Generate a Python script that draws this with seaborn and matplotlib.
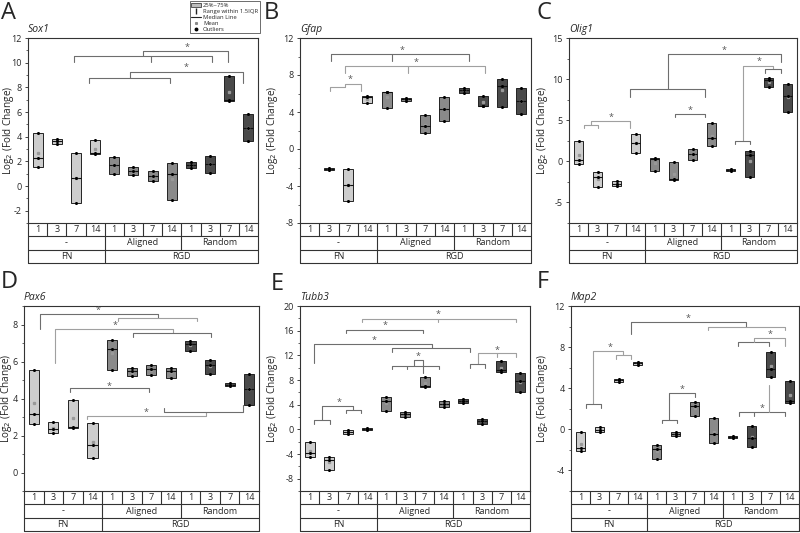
import numpy as np
import pandas as pd
import matplotlib
matplotlib.use("Agg")
import matplotlib.pyplot as plt
from matplotlib.patches import Patch
from matplotlib.lines import Line2D
from matplotlib.ticker import MultipleLocator
import seaborn as sns

sns.set_style("ticks")
plt.rcParams['font.family'] = ['Open Sans', 'DejaVu Sans']
plt.rcParams['axes.unicode_minus'] = False

# --- data: three replicates per condition (log2 fold change) ---
days = ["1", "3", "7", "14"]
groups = ["-", "Aligned", "Random"]
substrates = ["FN", "RGD"]
conds = [f"{g}-{d}" for g in ["FN", "Aligned", "Random"] for d in days]
box_colors = ["#cdcdcd"] * 4 + ["#8a8a8a"] * 4 + ["#4a4a4a"] * 4

sox1 = [[1.57, 2.27, 4.28], [3.37, 3.64, 3.80], [-1.40, 0.61, 2.64], [2.62, 2.64, 3.74],
        [1.00, 1.68, 2.32], [0.93, 1.22, 1.57], [0.42, 0.79, 1.20], [-1.16, 0.98, 1.87],
        [1.50, 1.70, 1.92], [1.06, 1.81, 2.40], [6.90, 7.00, 8.89], [3.64, 4.68, 5.86]]
gfap = [None, [-2.25, -2.17, -2.10], [-5.60, -3.94, -2.20], [4.95, 5.67, 5.73],
        [4.48, 6.15, 6.17], [5.24, 5.37, 5.50], [1.75, 2.54, 3.65], [3.04, 4.37, 5.67],
        [6.10, 6.35, 6.57], [4.63, 4.70, 5.78], [4.59, 6.82, 7.61], [3.73, 5.20, 6.64]]
olig1 = [[-0.36, 0.12, 2.46], [-3.15, -1.90, -1.33], [-2.98, -2.70, -2.42], [1.00, 2.22, 3.31],
         [-1.17, 0.29, 0.40], [-2.26, -2.16, -0.08], [0.20, 0.85, 1.49], [1.85, 2.78, 4.64],
         [-1.13, -1.03, -0.93], [-1.85, 0.81, 1.25], [9.00, 9.88, 10.16], [5.97, 7.98, 9.35]]
pax6 = [[2.61, 3.17, 5.56], [2.12, 2.34, 2.74], [2.40, 2.46, 3.92], [0.77, 1.48, 2.68],
        [5.54, 6.67, 7.16], [5.21, 5.47, 5.67], [5.29, 5.60, 5.80], [5.10, 5.50, 5.67],
        [6.58, 6.93, 7.10], [5.30, 5.83, 6.10], [4.65, 4.75, 4.83], [3.66, 4.50, 5.34]]
tubb3 = [[-4.50, -3.84, -2.10], [-6.65, -4.90, -4.50], [-0.70, -0.40, -0.05], [-0.05, 0.05, 0.22],
         [2.97, 4.54, 5.19], [2.05, 2.43, 2.81], [6.92, 7.10, 8.43], [3.62, 4.10, 4.54],
         [4.22, 4.65, 4.97], [0.92, 1.30, 1.73], [9.35, 9.60, 11.05], [6.05, 7.90, 9.14]]
map2 = [[-2.13, -1.77, -0.29], [-0.23, -0.03, 0.19], [4.61, 4.77, 4.94], [6.29, 6.42, 6.55],
        [-2.87, -1.90, -1.48], [-0.61, -0.45, -0.23], [1.32, 2.29, 2.68], [-1.32, -0.45, 1.10],
        [-0.80, -0.72, -0.64], [-1.68, -0.84, 0.35], [5.10, 5.90, 7.55], [2.55, 2.74, 4.71]]

# significance brackets: (x1, x2, y, left leg end, right leg end, colour)
D_ = "#6e6e6e"
L_ = "#a0a0a0"
sox1_br = [(1.9, 9.12, 10.53, 10.07, 10.07, D_), (5.5, 9.93, 10.98, 10.53, 10.07, D_),
           (2.68, 6.89, 8.78, 8.33, 8.33, D_), (4.84, 10.73, 9.27, 8.78, 8.33, D_)]
sox1_tk = [(5.9, 10.53, 10.07, D_)]
sox1_st = [(7.78, 11.25), (7.74, 9.59)]

gfap_br = [(1.1, 8.28, 10.24, 9.48, 9.48, D_), (1.86, 9.1, 8.98, 8.22, 8.22, L_),
           (1.06, 1.85, 6.72, 6.32, None, L_), (1.85, 2.68, 7.07, 6.72, 6.32, L_)]
gfap_tk = [(4.3, 10.24, 9.48, D_), (5.1, 8.98, 8.22, L_)]
gfap_st = [(4.8, 10.67), (5.52, 9.34), (2.1, 7.5)]

olig1_br = [(4.72, 10.66, 13.0, 8.75, 12.1, D_), (2.7, 6.66, 8.75, 7.82, 7.82, D_),
            (8.67, 10.26, 11.65, 2.5, 11.17, L_), (9.83, 10.66, 11.17, 10.8, 10.8, D_),
            (8.24, 9.05, 2.5, 2.1, 2.1, D_), (5.1, 6.66, 5.8, 5.36, 5.36, D_),
            (0.67, 2.7, 4.92, 4.44, 4.03, L_), (0.29, 1.05, 4.44, 4.03, 4.03, L_)]
olig1_tk = []
olig1_st = [(7.66, 13.47), (9.53, 12.1), (5.9, 6.2), (1.72, 5.32)]

pax6_br = [(0.3, 6.35, 8.58, 7.76, 8.36, D_), (4.29, 8.33, 8.36, 8.18, 8.18, L_),
           (1.07, 7.1, 7.74, 5.94, 7.54, L_), (5.09, 9.06, 7.54, 7.34, 7.34, D_),
           (1.85, 5.9, 4.56, 4.34, 4.34, D_), (2.7, 8.77, 3.08, 2.88, 3.28, L_),
           (6.67, 10.7, 3.28, 3.46, 3.66, D_)]
pax6_tk = []
pax6_st = [(3.28, 8.77), (4.17, 7.95), (3.83, 4.67), (5.74, 3.24)]

tubb3_br = [(2.72, 10.77, 17.95, 17.35, 17.35, L_), (1.9, 5.93, 16.16, 15.57, 15.57, D_),
            (0.25, 6.37, 13.84, 10.7, 13.14, D_), (4.28, 8.37, 13.14, 12.54, 12.54, D_),
            (4.28, 6.75, 10.3, 9.73, 9.73, D_), (5.45, 5.93, 11.24, 10.3, 9.14, D_),
            (8.77, 10.77, 12.3, 10.6, 11.76, L_), (8.37, 9.15, 10.6, 9.95, 9.95, D_),
            (0.67, 2.28, 3.84, 1.46, 3.2, D_), (0.25, 1.07, 1.46, 0.86, 0.86, D_),
            (1.88, 2.7, 3.2, 2.6, 2.6, D_)]
tubb3_tk = [(6.72, 17.95, 17.35, L_), (5.1, 10.3, 9.73, D_), (9.76, 12.3, 11.76, L_)]
tubb3_st = [(6.72, 18.6), (3.95, 16.8), (3.36, 14.4), (5.67, 11.8), (9.76, 12.86), (1.53, 4.38)]

map2_br = [(2.65, 8.73, 10.42, 9.29, 9.97, D_), (6.71, 10.77, 9.97, 9.65, 9.65, L_),
           (8.3, 9.94, 8.52, 8.1, 8.1, D_), (9.12, 10.77, 8.84, 8.52, 8.1, L_),
           (0.67, 2.24, 7.61, 2.42, 7.23, L_), (0.28, 1.07, 2.42, 2.1, 2.1, D_),
           (1.89, 2.67, 7.23, 6.87, 6.87, L_), (4.67, 6.0, 3.55, 0.94, 3.19, D_),
           (4.27, 5.06, 0.94, 0.58, 0.58, D_), (8.33, 10.77, 1.65, 1.32, 1.32, D_)]
map2_tk = [(9.12, 1.65, 1.32, D_), (9.9, 1.65, 4.29, L_)]
map2_st = [(5.68, 10.77), (10.0, 9.19), (1.54, 7.94), (5.34, 3.9), (9.55, 2.03)]

# panel: letter, gene, data, brackets, ticks, stars, ylim, major, minor,
#        px box (l, t, r, b), y-label offset (px), letter position (px)
panels = [
    ("A", "Sox1", sox1, sox1_br, sox1_tk, sox1_st, (-3, 12), 2, 1, (28, 38, 258, 223), -12, (1, 1)),
    ("B", "Gfap", gfap, gfap_br, gfap_tk, gfap_st, (-8, 12), 4, 2, (300, 38, 531, 223), -20, (264, 1)),
    ("C", "Olig1", olig1, olig1_br, olig1_tk, olig1_st, (-7.5, 15), 5, 2.5, (569, 38, 797, 223), -19, (536, 1)),
    ("D", "Pax6", pax6, pax6_br, pax6_tk, pax6_st, (-1, 9), 2, 1, (24, 306, 259, 491), -10, (1, 270)),
    ("E", "Tubb3", tubb3, tubb3_br, tubb3_tk, tubb3_st, (-10, 20), 4, 2, (300, 306, 530, 491), -20, (271, 272)),
    ("F", "Map2", map2, map2_br, map2_tk, map2_st, (-6, 12), 4, 2, (571, 306, 799, 491), -21, (537, 270)),
]

W, H = 800, 533
fig = plt.figure(figsize=(8, 5.33), dpi=100)


def px_rect(l, t, r, b):
    return [l / W, 1 - b / H, (r - l) / W, (b - t) / H]


def draw_table(l, t, r, b):
    tax = fig.add_axes(px_rect(l, t, r, b))
    tax.set_xlim(-0.5, 11.5)
    tax.set_ylim(0, 3)
    tax.axis("off")
    kw = dict(color="#333333", lw=0.8, clip_on=False)
    for y in [0, 1, 2]:
        tax.plot([-0.5, 11.5], [y, y], **kw)
    for x in [-0.5, 11.5]:
        tax.plot([x, x], [0, 3], **kw)
    for k in range(1, 12):
        tax.plot([k - 0.5, k - 0.5], [2, 3], **kw)
    for k in [3.5, 7.5]:
        tax.plot([k, k], [1, 2], **kw)
    tax.plot([3.5, 3.5], [0, 1], **kw)
    for i, c in enumerate(conds):
        tax.text(i, 2.5, days[i % 4], ha="center", va="center", fontsize=6.5)
    for j, g in enumerate(groups):
        tax.text(4 * j + 1.5, 1.5, g, ha="center", va="center", fontsize=6.5)
    tax.text(1.5, 0.5, substrates[0], ha="center", va="center", fontsize=6.5)
    tax.text(7.5, 0.5, substrates[1], ha="center", va="center", fontsize=6.5)


for (letter, gene, vals, brs, tks, sts, ylim, major, minor,
     (l, t, r, b), yoff, (lx, ly)) in panels:
    ax = fig.add_axes(px_rect(l, t, r, b))
    stats, pos = [], []
    for i, v in enumerate(vals):
        if v is None:
            continue
        a = np.sort(np.asarray(v))
        stats.append(dict(med=np.median(a), q1=a.min(), q3=a.max(), whislo=a.min(),
                          whishi=a.max(), mean=a.mean(), fliers=[]))
        pos.append(i)
    bp = ax.bxp(stats, positions=pos, widths=0.52, patch_artist=True, showmeans=True,
                showcaps=False,
                boxprops=dict(edgecolor="#222222", linewidth=0.7),
                medianprops=dict(color="#111111", linewidth=0.8),
                whiskerprops=dict(color="#222222", linewidth=0.7),
                meanprops=dict(marker="s", markersize=1.4, markerfacecolor="#999999",
                               markeredgecolor="#999999"))
    for patch, i in zip(bp["boxes"], pos):
        patch.set_facecolor(box_colors[i])

    rows = [(conds[i], x) for i, v in enumerate(vals) if v is not None for x in v]
    df = pd.DataFrame(rows, columns=["cond", "value"])
    sns.stripplot(data=df, x="cond", y="value", order=conds, jitter=False, color="black",
                  size=2.2, zorder=4, ax=ax)

    for x1, x2, y, yl, yr, c in brs:
        xs, ys = [], []
        if yl is not None:
            xs.append(x1); ys.append(yl)
        xs += [x1, x2]; ys += [y, y]
        if yr is not None:
            xs.append(x2); ys.append(yr)
        ax.plot(xs, ys, color=c, lw=0.8, zorder=1)
    for x, y1, y2, c in tks:
        ax.plot([x, x], [y1, y2], color=c, lw=0.8, zorder=1)
    for x, y in sts:
        ax.text(x, y, "*", ha="center", va="center", fontsize=6.5, color="#555555")

    ax.set_xlim(-0.5, 11.5)
    ax.set_ylim(*ylim)
    ax.set_xticks([])
    ax.set_xlabel("")
    ax.yaxis.set_major_locator(MultipleLocator(major))
    ax.yaxis.set_minor_locator(MultipleLocator(minor))
    ax.tick_params(axis="y", which="major", labelsize=6.5, length=2.5, width=0.6, pad=2)
    ax.tick_params(axis="y", which="minor", length=1.5, width=0.5)
    for s in ax.spines.values():
        s.set_visible(True)
        s.set_linewidth(0.8)
        s.set_color("#333333")
    ax.set_ylabel("Log$_2$ (Fold Change)", fontsize=7.2)
    ax.yaxis.set_label_coords(yoff / (r - l), 0.5)

    draw_table(l, b, r, b + 40)
    fig.text(l / W, 1 - (t - 3) / H, gene, fontsize=7.5, style="italic", ha="left", va="bottom")
    fig.text(lx / W, 1 - ly / H, letter, fontsize=17, ha="left", va="top")

handles = [Patch(facecolor="#bdbdbd", edgecolor="#222222", linewidth=0.5),
           Line2D([], [], marker=r"$\mathsf{I}$", ls="none", color="#222222", markersize=4),
           Line2D([], [], color="#222222", lw=0.8),
           Line2D([], [], marker="s", ms=1.2, ls="none", color="#888888"),
           Line2D([], [], marker="o", ms=1.8, ls="none", color="black")]
labels = ["25%~75%", "Range within 1.5IQR", "Median Line", "Mean", "Outliers"]
leg = fig.legend(handles, labels, loc="upper right", bbox_to_anchor=(260 / W, 1 - 1 / H),
                 fontsize=4.2, frameon=True, fancybox=False, edgecolor="#333333",
                 framealpha=1, borderpad=0.3, labelspacing=0.15, handlelength=1.6,
                 handletextpad=0.4, borderaxespad=0)
leg.get_frame().set_linewidth(0.5)

fig.savefig("out.png", dpi=100)
